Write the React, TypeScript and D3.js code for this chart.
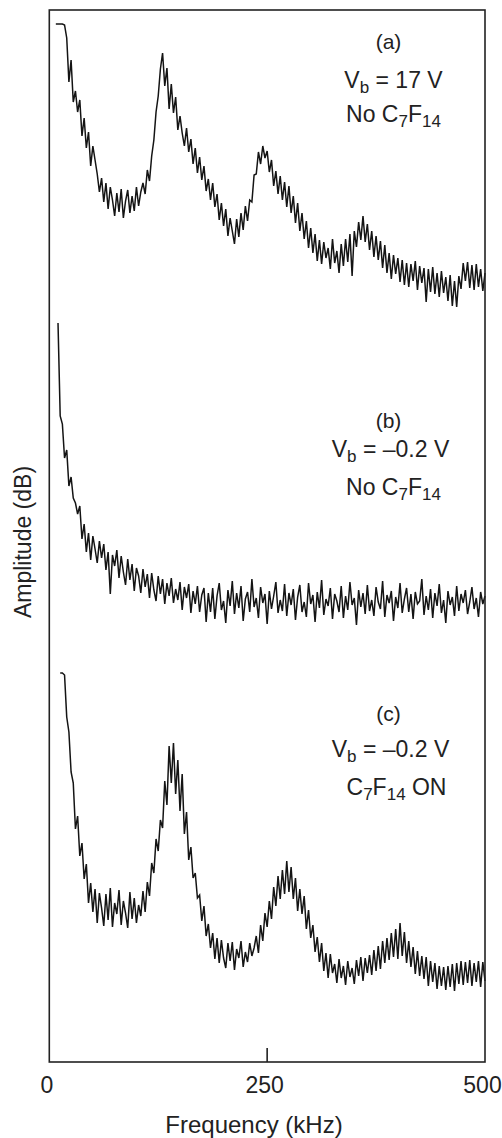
import React from 'react';
import * as d3 from 'd3';

const W = 502;
const H = 1138;
const FONT = '"Liberation Sans", Arial, Helvetica, sans-serif';

// Frequency axis (kHz) and arbitrary amplitude axis (dB, stacked traces)
const freqDomain = [0, 500];
const ampDomain = [0, 105.2];
const xTickValues = [0, 250, 500];
const freqStep = 2.5;

// (a) Vb = 17 V, no C7F14
const startA = 7.5;
const ampA = [
  33.8, 33.8, 33.8, 33.8, 33.7, 32.4, 28.0, 30.2, 26.0, 27.1,
  25.0, 26.2, 22.6, 24.4, 21.4, 23.0, 19.6, 21.6, 20.2, 18.8,
  17.0, 18.4, 16.0, 17.9, 15.3, 17.5, 16.2, 14.6, 16.9, 15.0,
  17.3, 14.4, 16.1, 17.2, 14.9, 16.6, 15.1, 17.5, 15.6, 17.0,
  17.9, 16.8, 19.2, 18.1, 20.6, 22.2, 25.0, 26.6, 29.3, 30.9,
  27.6, 29.4, 25.3, 27.8, 24.9, 26.5, 23.2, 24.6, 22.9, 21.6,
  23.4, 21.0, 22.3, 19.8, 21.4, 18.9, 20.5, 18.2, 19.6, 17.1,
  18.3, 16.2, 17.9, 15.5, 16.8, 14.2, 15.9, 13.6, 15.3, 12.6,
  14.4, 13.1, 11.8, 14.3, 12.5, 14.9, 13.2, 15.6, 14.1, 16.2,
  16.0, 18.7, 18.8, 21.0, 19.8, 21.6, 20.4, 21.1, 19.0, 20.2,
  17.6, 19.1, 16.8, 18.6, 16.2, 18.0, 15.5, 17.6, 14.9, 16.6,
  13.9, 15.9, 13.1, 14.9, 12.3, 14.1, 11.4, 13.4, 10.9, 12.8,
  10.1, 12.2, 9.8, 12.0, 10.4, 11.4, 9.3, 12.3, 9.9, 11.1,
  8.9, 11.8, 9.6, 12.3, 10.0, 12.8, 8.6, 13.1, 11.5, 14.0,
  12.2, 14.6, 12.0, 13.8, 11.2, 13.1, 10.5, 12.6, 10.2, 12.1,
  9.4, 11.7, 8.9, 10.9, 8.3, 10.7, 8.8, 10.4, 8.0, 10.2,
  7.7, 9.9, 7.5, 9.8, 8.1, 10.1, 7.2, 9.6, 7.9, 9.4,
  6.0, 9.3, 7.0, 9.5, 6.8, 8.9, 6.5, 9.1, 6.9, 8.5,
  6.1, 8.7, 5.6, 8.1, 5.5, 8.6, 7.3, 9.9, 8.1, 10.0,
  7.4, 9.7, 7.2, 9.8, 7.5, 9.3, 7.1, 8.9,
];

// (b) Vb = -0.2 V, no C7F14
const startB = 10;
const ampB = [
  33.9, 24.6, 23.8, 20.4, 21.2, 17.6, 18.5, 16.4, 15.9, 14.8,
  15.6, 12.3, 13.8, 11.0, 12.9, 10.2, 12.6, 11.3, 9.9, 12.1,
  10.4, 11.8, 9.2, 11.0, 6.8, 10.7, 9.6, 11.2, 8.4, 10.6,
  9.0, 7.7, 10.3, 8.2, 9.8, 7.1, 9.4, 8.6, 6.9, 9.3,
  7.5, 8.8, 6.4, 8.9, 7.2, 6.1, 8.6, 6.8, 8.3, 5.8,
  7.9, 6.6, 8.4, 5.9, 7.3, 6.2, 8.0, 5.2, 7.5, 6.4,
  7.8, 4.9, 7.1, 5.8, 7.6, 5.0, 6.7, 7.4, 4.0, 6.9,
  5.0, 7.4, 4.3, 6.6, 7.9, 5.2, 6.1, 3.9, 7.2, 5.6,
  8.1, 4.8, 6.9, 5.4, 7.6, 4.1, 6.3, 7.0, 5.0, 8.3,
  5.5, 6.4, 4.4, 7.5, 5.9, 6.8, 3.8, 7.1, 5.3, 6.6,
  8.0, 4.9, 6.2, 5.1, 7.8, 4.6, 6.9, 5.7, 7.3, 4.2,
  6.5, 7.7, 5.0, 6.0, 4.5, 7.9, 5.8, 6.7, 4.0, 7.0,
  5.4, 8.2, 4.7, 6.3, 5.6, 7.4, 4.3, 6.8, 6.1, 5.0,
  7.6, 4.4, 6.6, 5.2, 8.0, 5.7, 6.4, 3.7, 7.2, 5.5,
  6.9, 4.8, 7.7, 5.1, 6.2, 4.6, 7.5, 6.0, 5.3, 8.1,
  4.5, 6.7, 5.9, 7.1, 4.1, 6.5, 5.4, 7.9, 4.9, 6.3,
  7.4, 5.0, 6.8, 4.3, 7.0, 5.8, 6.1, 8.3, 4.7, 6.6,
  5.2, 7.3, 4.4, 6.9, 5.6, 7.8, 4.9, 6.2, 3.9, 7.1,
  5.7, 6.5, 4.6, 7.6, 5.1, 6.8, 5.9, 7.2, 4.8, 6.0,
  7.5, 5.3, 6.4, 4.5, 7.0, 5.8, 6.6,
];

// (c) Vb = -0.2 V, C7F14 ON
const startC = 12.5;
const ampC = [
  38.9, 38.9, 38.7, 34.5, 33.0, 29.0, 27.9, 23.3, 24.6, 20.6,
  21.9, 18.3, 19.8, 15.9, 17.9, 15.0, 17.3, 13.9, 16.9, 15.4,
  13.6, 16.8, 14.2, 17.4, 13.5, 15.9, 14.8, 17.2, 13.7, 16.1,
  14.9, 13.4, 17.0, 14.3, 16.4, 13.9, 15.7, 14.6, 17.1, 15.0,
  18.0, 16.6, 19.9, 18.9, 22.3, 21.1, 24.2, 23.4, 28.1, 25.7,
  31.6, 27.9, 31.9, 26.8, 30.2, 25.1, 28.8, 22.8, 25.0, 20.2,
  21.5, 18.4, 18.9, 16.4, 16.7, 14.1, 15.6, 12.6, 13.8, 11.4,
  12.9, 10.3, 12.4, 9.9, 12.2, 10.4, 9.4, 11.9, 10.1, 12.0,
  9.2, 11.3, 10.4, 12.1, 9.5, 11.0, 10.0, 11.9, 10.6, 11.4,
  12.6, 10.9, 13.7, 12.1, 14.9, 13.5, 16.1, 14.3, 17.5, 15.6,
  18.6, 16.3, 19.2, 16.8, 20.1, 17.0, 19.5, 16.3, 18.4, 15.1,
  17.3, 14.8, 16.6, 13.3, 15.2, 12.4, 13.7, 11.0, 12.5, 10.0,
  11.9, 9.1, 10.9, 8.4, 10.8, 8.9, 9.8, 7.9, 10.3, 8.4,
  9.6, 7.7, 10.1, 8.5, 9.4, 7.8, 10.2, 8.6, 10.5, 8.1,
  10.4, 8.9, 10.7, 8.7, 11.2, 9.1, 11.6, 9.3, 12.1, 9.9,
  12.4, 10.2, 12.9, 10.5, 13.3, 10.3, 13.9, 10.6, 13.0, 9.9,
  12.1, 9.5, 11.5, 8.8, 11.1, 8.6, 10.6, 8.3, 10.5, 7.6,
  10.1, 8.0, 9.9, 7.3, 9.6, 7.6, 9.5, 7.2, 9.6, 7.5,
  9.8, 7.1, 9.9, 7.8, 10.1, 7.7, 10.0, 7.9, 10.2, 7.6,
  9.9, 8.0, 10.1, 7.5, 10.0, 8.1,
];

const traceStarts = [startA, startB, startC];
const traceAmps = [ampA, ampB, ampC];
const traceOffsets = [70, 40, 0];

const panelTags = ['(a)', '(b)', '(c)'];

export default function App() {
  const left = 49.3;
  const right = 485;
  const top = 10;
  const bottom = 1062;

  const x = d3.scaleLinear().domain(freqDomain).range([left, right]);
  const y = d3.scaleLinear().domain(ampDomain).range([bottom, top]);

  const line = d3
    .line<[number, number]>()
    .x((d) => x(d[0]))
    .y((d) => y(d[1]));

  const paths = traceAmps.map((arr, k) => {
    const pts: [number, number][] = arr.map((v, i) => [
      traceStarts[k] + i * freqStep,
      v + traceOffsets[k],
    ]);
    return line(pts) || '';
  });

  const ax = x(395);
  const subSize = 17;

  const tagStyle = { fontFamily: FONT, fontSize: 21, fill: '#222' } as const;
  const txtStyle = { fontFamily: FONT, fontSize: 23, fill: '#222' } as const;

  return (
    <svg
      width={W}
      height={H}
      style={{ position: 'absolute', left: 0, top: 0, background: '#fff' }}
    >
      {paths.map((d, i) => (
        <path key={i} d={d} fill="none" stroke="#141414" strokeWidth={1.5} strokeLinejoin="miter" />
      ))}

      <rect
        x={left}
        y={top}
        width={right - left}
        height={bottom - top}
        fill="none"
        stroke="#222"
        strokeWidth={1.6}
      />

      {xTickValues
        .filter((v) => v > freqDomain[0] && v < freqDomain[1])
        .map((v) => (
          <line key={v} x1={x(v)} x2={x(v)} y1={bottom} y2={bottom - 14} stroke="#222" strokeWidth={1.6} />
        ))}

      {xTickValues.map((v) => (
        <text key={v} x={x(v) - 2.5} y={1092.5} textAnchor="middle" style={txtStyle}>
          {v}
        </text>
      ))}

      <text x={254} y={1133} textAnchor="middle" style={{ ...txtStyle, fontSize: 24 }}>
        Frequency (kHz)
      </text>

      <text
        transform={`translate(31, 542) rotate(-90)`}
        textAnchor="middle"
        style={{ ...txtStyle, fontSize: 23 }}
      >
        Amplitude (dB)
      </text>

      {/* (a) */}
      <text x={ax - 5} y={49} textAnchor="middle" style={tagStyle}>{panelTags[0]}</text>
      <text x={ax} y={88} textAnchor="middle" style={txtStyle}>
        V<tspan dy={5} fontSize={subSize}>b</tspan>
        <tspan dy={-5}> = 17 V</tspan>
      </text>
      <text x={ax} y={122} textAnchor="middle" style={txtStyle}>
        No C<tspan dy={5} fontSize={subSize}>7</tspan>
        <tspan dy={-5}>F</tspan>
        <tspan dy={5} fontSize={subSize}>14</tspan>
      </text>

      {/* (b) */}
      <text x={ax - 5} y={427.5} textAnchor="middle" style={tagStyle}>{panelTags[1]}</text>
      <text x={ax - 3} y={457} textAnchor="middle" style={txtStyle}>
        V<tspan dy={5} fontSize={subSize}>b</tspan>
        <tspan dy={-5}> = –0.2 V</tspan>
      </text>
      <text x={ax} y={495} textAnchor="middle" style={txtStyle}>
        No C<tspan dy={5} fontSize={subSize}>7</tspan>
        <tspan dy={-5}>F</tspan>
        <tspan dy={5} fontSize={subSize}>14</tspan>
      </text>

      {/* (c) */}
      <text x={ax - 5} y={721} textAnchor="middle" style={tagStyle}>{panelTags[2]}</text>
      <text x={ax - 3} y={757} textAnchor="middle" style={txtStyle}>
        V<tspan dy={5} fontSize={subSize}>b</tspan>
        <tspan dy={-5}> = –0.2 V</tspan>
      </text>
      <text x={ax + 3} y={795} textAnchor="middle" style={txtStyle}>
        C<tspan dy={5} fontSize={subSize}>7</tspan>
        <tspan dy={-5}>F</tspan>
        <tspan dy={5} fontSize={subSize}>14</tspan>
        <tspan dy={-5}> ON</tspan>
      </text>
    </svg>
  );
}
